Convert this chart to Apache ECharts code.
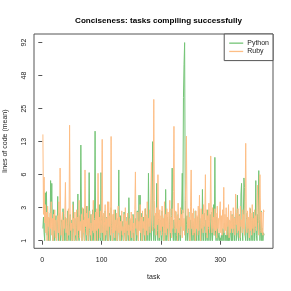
<!DOCTYPE html>
<html>
<head>
<meta charset="utf-8">
<script src="https://cdn.jsdelivr.net/npm/echarts@6/dist/echarts.min.js"></script>
<style>html,body{margin:0;padding:0;background:#fff}#c{width:291px;height:291px}</style>
</head>
<body>
<div id="c"></div>
<script>
var titleText = 'Conciseness: tasks compiling successfully';
var xName = 'task';
var yName = 'lines of code (mean)';
var yTicks = [1, 3, 6, 13, 25, 48, 92];
var xTicks = [0, 100, 200, 300];
var seriesNames = ['Python', 'Ruby'];

var python = [
1.5,2.2,1.3,1,4.1,1.8,4.2,1.2,2.6,1,
1.4,2.1,1,5.3,2.4,5,1.6,1,2.8,1.3,
1,1.9,2.3,1.1,1.5,3.8,1,1.7,2.5,1.2,
1,2,1.4,1,2.9,1.3,1,1.6,2.2,1,
1.5,1,2.7,1.2,1,1.8,2.4,1,1.3,2,
1,3.4,1.5,1,2.1,1.2,1,2.6,1.4,4,
1.2,1,2.3,1.6,12,2.5,1,1.8,2.9,1.3,
1,2.2,1.5,1,3.1,1.2,1.9,1,6.3,1.4,
1,2.4,1.6,1,2.8,1.3,1,2.1,16,1.5,
1,2.6,1.2,1.8,1,3.2,1.4,1,6.3,1.7,
1,2.3,1.1,1,1.9,2.7,1,1.3,2.2,1,
1.6,1,2.5,1.2,1,3,1.5,1,1.8,2.4,
1,1.3,2.8,1,1.6,2.1,1,1.4,6.7,1.2,
1,2.3,1.5,1,1.9,1.2,1,2.6,1.3,1,
1.8,1,2.2,1.4,1,3.7,1.6,1,2,1.2,
1,1.5,2.4,1,1.3,1,2.1,1.6,1,2.7,
1.2,1,3.9,1.5,3.9,1,1.8,2.5,1,1.4,
2.2,1,1.3,2.9,1,1.7,2.4,1,6.2,1.5,
1,2.1,1.3,1,2.8,13,1.6,1,2.3,1.2,
1,1.8,5,1.4,1,2.5,1.2,1,2,1.5,
1,2.7,1.3,1,1.9,2.4,1,4.4,1.6,1,
2.2,1.2,1,1.7,2.9,1,1.4,2.3,7,1.3,
1,2,1.5,1,2.6,1.2,1,1.8,2.4,1,
1.3,2.1,1,1.6,2.8,6.2,2.5,31,60,92,
3.5,1,1.7,2.3,1,1.4,2.6,1,1.2,2,
1,1.5,2.4,1,1.3,1.9,1,2.7,1.2,1,
1.8,2.2,1,1.4,2.9,1,1.6,2.1,1,4.4,
1.3,1,2.5,1.7,1,2,1.2,1,2.8,1.5,
1,1.9,2.4,1,1.3,2.6,1,1.7,3.2,1.2,
9,1.4,1,2.2,1.6,1,1,1.3,1,1.1,
1,1.2,1,1.5,1,1,1.8,1,1.2,1,
1.4,1,2.1,1,1.3,1,1.9,1.2,1,2.4,
1,1.5,2.2,1,1.7,2.8,1,1.3,3.9,1.2,
1,2.4,1.6,1,4,5,1.4,1,2.3,5.6,
4.6,1.2,1,1.8,2.5,1,1.4,2.1,1,1.6,
2.9,1,1.3,2.2,1,1.7,2.6,1,1.5,5.3,
1.2,1,2.4,1.8,6.6,2,1,1.4,2.7,1,
1.5,1,1.3,1.2
];

var ruby = [
15,2.4,5.7,1.8,3.2,1.3,2.6,1,3.1,1.6,
2.2,1,2.5,1.5,3.4,1.2,2.1,1,2.4,1.4,
2.8,1.1,2,1,1.8,2.3,1.3,3.4,1,7,
2.2,1.2,1.9,2.6,1,2,1.5,2.5,5.1,1.3,
2.1,1,1.7,2.9,1.2,18,2.3,1.4,1.8,1,
3.2,1.5,2.1,1,2.6,1.2,1.6,2.8,1,2.2,
1.4,3.5,1.1,1.9,1.4,2.4,1,3,1.3,2,
1,6.7,1.6,2.5,1.2,3.1,1,2.1,1.5,2.7,
1.2,1.8,1,2.4,1.4,3.5,1.3,2,1,2.6,
1.4,2.9,1,6.2,1.5,2.2,1.1,2.7,1.3,2,
13.6,1.3,2.5,1,1.9,3.2,1.2,2.1,1.4,3.4,
1,3.4,1.6,2.3,1.2,14.4,1.7,1,2.4,1.3,
2.8,1.1,2,1.4,2.5,1,1.8,3.1,1.3,2.2,
1,1.9,1.4,2.7,1.2,1.6,1,2.4,1.3,3,
1,1.9,1.4,2.5,1.2,1.7,1,2.1,1.4,2.6,
1.1,2.3,1.3,1.8,1,2.8,6.4,1.5,2,1.2,
2.6,1,1.9,1.4,3.2,1.3,2.2,1,2.7,1.5,
1.9,1.2,2.9,1,2.3,1.4,3.4,1.2,2.1,1.6,
2.8,1.3,4,8,2,1.4,3.3,30,3.5,1.5,
2.5,1.2,3,1.7,6,2,1.1,2.8,1.4,2.3,
1.2,3.1,1.6,2.1,1,3.4,1.3,2.4,1.2,2.9,
1.5,2.6,1,2,3.5,1.3,2.2,1.1,2.9,1.5,
4.2,17.6,2.1,1.3,2.7,1.5,2.3,1,3.3,1.3,
2,1.2,3,1.6,2.4,1.1,2.8,1.4,2.1,1.2,
3.4,5,14.5,2.3,1.3,2.9,1.5,2.2,1,3.1,
6.7,1.5,2.5,1.2,2.9,1.3,2.1,1,2.7,1.5,
2.3,1.2,3.1,1.4,3.9,1.9,1,2.9,1.5,2.4,
1.3,3.2,1.6,2.1,6,1.3,2.8,1.1,2.3,1.6,
3.3,1.3,2.6,9.3,2,1.3,3,1.5,2.2,1.2,
2.9,1.4,2.5,1.1,3.1,1.5,2.1,1.3,2.6,3.4,
1.3,2.3,1.2,2.8,1.5,4.6,1.3,2.4,1.4,3,
1.2,2.2,1.6,3.2,1.1,2,1.3,2.7,1.5,2.3,
1.3,3,1.5,2.1,1.2,4,1.7,2.5,1.3,2.9,
1.4,2.3,1.1,3.1,1.6,2,1.3,2.8,1.5,2.4,
1.2,3.4,12.5,2.1,1.3,2.7,1.5,2.2,1.1,3,
1.4,2.5,1.2,3.2,1.5,2.1,1.3,2.8,1.6,2.3,
1.4,3,4.8,2,1.2,3.1,6,2.2,1.3,2.6,
1.5,1.2,2.8,2.6
];

// map a value onto the axis's tick-index scale (log interpolation between labelled ticks)
function toAxis(v) {
  for (var i = 0; i < yTicks.length - 1; i++) {
    if (v <= yTicks[i + 1] || i === yTicks.length - 2) {
      return i + (Math.log(v) - Math.log(yTicks[i])) / (Math.log(yTicks[i + 1]) - Math.log(yTicks[i]));
    }
  }
}
function build(arr) {
  return arr.map(function (v, i) { return [i + 1, toAxis(v)]; });
}

var chart = echarts.init(document.getElementById('c'), null, {renderer: 'canvas'});
var font = 'Liberation Sans, Arial, Helvetica, sans-serif';
var colors = ['#74c476', '#fdbe85'];
chart.setOption({
  animation: false,
  textStyle: {fontFamily: font},
  title: {
    text: titleText, left: 153.5, top: 11.5, textAlign: 'center',
    textStyle: {fontSize: 8.1, fontWeight: 'bold', color: '#000', fontFamily: font}
  },
  grid: {left: 34, right: 18, top: 34, bottom: 42.7, show: true, borderColor: '#555', borderWidth: 1, containLabel: false, outerBoundsMode: 'none'},
  legend: {
    data: [{name: seriesNames[0], icon: 'rect'}, {name: seriesNames[1], icon: 'rect'}],
    orient: 'vertical', right: 18, top: 34,
    borderColor: '#555', borderWidth: 1, padding: [5, 4, 5, 5], itemGap: 0,
    itemWidth: 14, itemHeight: 1.3, backgroundColor: '#fff', borderRadius: 0,
    textStyle: {fontSize: 7, color: '#222', fontFamily: font, lineHeight: 8.3, padding: [0, 0, 0, -1]}
  },
  xAxis: {
    type: 'value', min: -14, max: 389,
    name: xName, nameLocation: 'middle', nameGap: 25,
    nameTextStyle: {fontSize: 7, color: '#222', fontFamily: font},
    axisLine: {show: false},
    splitLine: {show: false},
    axisTick: {show: true, length: 4, lineStyle: {color: '#555'}, customValues: xTicks},
    axisLabel: {fontSize: 7, color: '#222', margin: 8, customValues: xTicks, fontFamily: font}
  },
  yAxis: {
    type: 'value', min: -0.23, max: 6.26,
    name: yName, nameLocation: 'middle', nameGap: 25,
    nameTextStyle: {fontSize: 7, color: '#222', fontFamily: font},
    axisLine: {show: false},
    splitLine: {show: false},
    axisTick: {show: true, length: 4, lineStyle: {color: '#555'}, customValues: [0, 1, 2, 3, 4, 5, 6]},
    axisLabel: {
      fontSize: 7, color: '#222', margin: 6, rotate: 90, fontFamily: font,
      customValues: [0, 1, 2, 3, 4, 5, 6],
      formatter: function (v) { return String(yTicks[Math.round(v)]); }
    }
  },
  series: [
    {name: seriesNames[0], type: 'line', data: build(python), symbol: 'none', lineStyle: {color: colors[0], width: 1}, itemStyle: {color: colors[0]}},
    {name: seriesNames[1], type: 'line', data: build(ruby), symbol: 'none', lineStyle: {color: colors[1], width: 1}, itemStyle: {color: colors[1]}}
  ]
});
</script>
</body>
</html>
